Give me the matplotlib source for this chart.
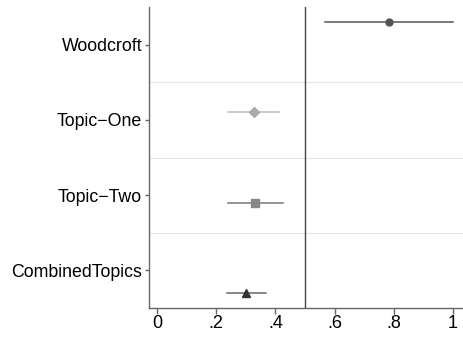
import matplotlib
matplotlib.use("Agg")
import matplotlib.pyplot as plt

plt.rcParams['font.family'] = ['Liberation Sans', 'DejaVu Sans']

categories = ["Woodcroft", "Topic\u2212One", "Topic\u2212Two", "CombinedTopics"]
estimates = [0.784, 0.327, 0.331, 0.301]
ci_low = [0.569, 0.241, 0.241, 0.238]
ci_high = [0.999, 0.412, 0.425, 0.367]
offsets = [-0.3, -0.1, 0.1, 0.3]
markers = ["o", "D", "s", "^"]
marker_colors = ["#555555", "#aaaaaa", "#888888", "#333333"]
line_colors = ["#555555", "#bbbbbb", "#777777", "#666666"]
marker_sizes = [5, 5, 6, 6]
xticks = [0, 0.2, 0.4, 0.6, 0.8, 1.0]
xticklabels = ["0", ".2", ".4", ".6", ".8", "1"]

fig = plt.figure(figsize=(4.63, 3.38), dpi=100)
ax = fig.add_axes([149/463, 30/338, 314/463, 301/338])

for i in range(len(categories)):
    y = i + 1 + offsets[i]
    ax.plot([ci_low[i], ci_high[i]], [y, y], color=line_colors[i], lw=1.1, zorder=2)
    ax.plot([estimates[i]], [y], marker=markers[i], color=marker_colors[i],
            markersize=marker_sizes[i], linestyle='none', zorder=3)

for g in [1.5, 2.5, 3.5]:
    ax.axhline(g, color="#e4e4e4", lw=0.8, zorder=1)
ax.axvline(0.5, color="#444444", lw=1.0, zorder=1)

ax.set_ylim(4.5, 0.5)
ax.set_xlim(-0.027, 1.034)
ax.set_yticks(range(1, len(categories) + 1))
ax.set_yticklabels(categories, fontsize=12.8)
ax.set_xticks(xticks)
ax.set_xticklabels(xticklabels, fontsize=13)

for s in ["top", "right"]:
    ax.spines[s].set_visible(False)
for s in ["left", "bottom"]:
    ax.spines[s].set_color("#666666")
    ax.spines[s].set_linewidth(1.0)
ax.tick_params(axis='both', colors="#666666", labelcolor="black", width=1.0)
ax.tick_params(axis='y', length=3, pad=2)
ax.tick_params(axis='x', length=4, pad=1)

fig.savefig("out.png", dpi=100)
